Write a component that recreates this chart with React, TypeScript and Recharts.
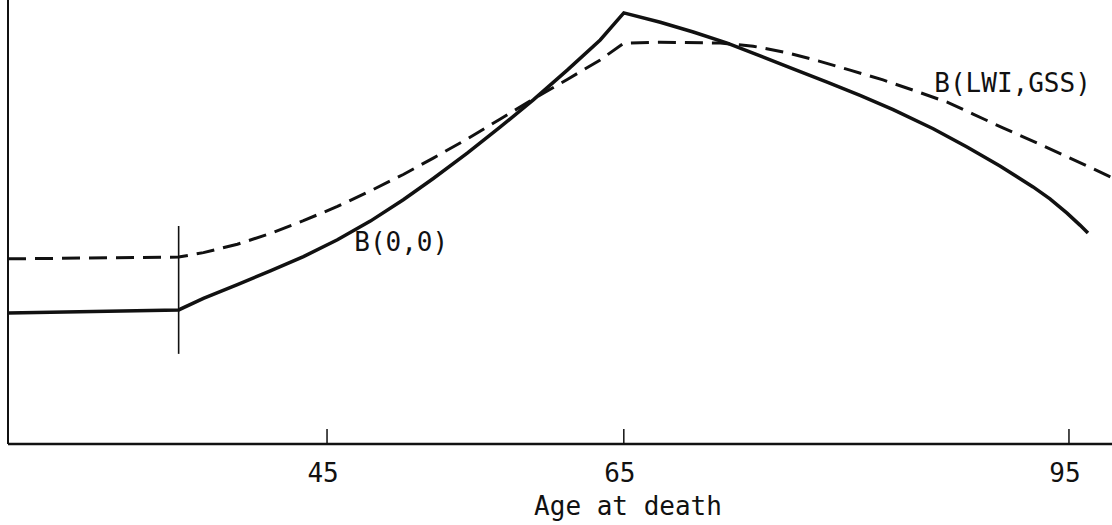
import React from 'react';
import { LineChart, Line, XAxis, YAxis, ReferenceLine, ReferenceDot, Label } from 'recharts';

const FONT = '"DejaVu Sans Mono", "Liberation Mono", monospace';
const INK = '#111';

// B(0,0): solid curve (age at death, benefit index)
const solidAges = [23.5, 35, 36.67, 38.96, 41.18, 43.41, 45.7, 47.92, 50.14, 52.16, 54.45, 56.68, 58.9, 61.19, 63.41, 65, 67.46, 69.68, 71.97, 74.19, 76.41, 78.7, 80.92, 83.15, 85.85, 88.13, 90.35, 92.58, 93.72, 94.87, 95.74, 96.28];
const solidValues = [29.5, 30.2, 32.8, 35.9, 39.0, 42.2, 46.0, 50.2, 55.0, 59.8, 65.5, 71.4, 77.5, 84.2, 91.0, 97.1, 95.0, 92.8, 90.3, 87.4, 84.5, 81.5, 78.5, 75.3, 71.0, 66.9, 62.6, 57.9, 55.2, 52.0, 49.3, 47.5];

// B(LWI,GSS): dashed curve
const dashedAges = [23.5, 35, 36.67, 38.96, 41.18, 43.41, 45.7, 47.92, 50.14, 52.16, 54.45, 56.68, 58.9, 61.19, 63.41, 65, 67.46, 71.5, 73.72, 76.01, 78.1, 80.25, 82.47, 84.49, 86.79, 88.54, 90.55, 92.85, 94.6, 96.42, 97.9];
const dashedValues = [41.7, 42.1, 43.1, 45.0, 47.4, 50.3, 53.5, 57.0, 60.7, 64.4, 68.7, 73.2, 77.7, 82.1, 86.5, 90.3, 90.5, 90.3, 89.6, 88.1, 86.3, 84.2, 82.0, 79.7, 77.0, 74.3, 71.2, 67.8, 65.1, 62.3, 60.0];

const xTicks = [45, 65, 95];
const xDomain = [23.5, 97.9];
const yDomain = [0, 100];
const cutoffAge = 35;
const cutoffRange = [20.3, 49.1];

const solidData = solidAges.map((age, i) => ({ age, v: solidValues[i] }));
const dashedData = dashedAges.map((age, i) => ({ age, v: dashedValues[i] }));

const AgeTick = (props: any) => {
  const { x, y, payload } = props;
  return (
    <g>
      <line x1={x} x2={x} y1={y - 15} y2={y} stroke={INK} strokeWidth={1.5} />
      <text x={x - 4} y={y + 38} textAnchor="middle" fontFamily={FONT} fontSize={26} fill={INK}>
        {payload.value}
      </text>
    </g>
  );
};

const AxisTitle = (props: any) => {
  const vb = props.viewBox;
  return (
    <text
      x={vb.x + vb.width / 2 + 68}
      y={vb.y + vb.height - 10}
      textAnchor="middle"
      fontFamily={FONT}
      fontSize={26}
      fill={INK}
    >
      Age at death
    </text>
  );
};

export default function App() {
  return (
    <div style={{ position: 'absolute', left: 0, top: 0, background: '#fff' }}>
      <LineChart width={1112} height={525} margin={{ top: 0, right: 0, left: 0, bottom: 0 }}>
        <XAxis
          type="number"
          dataKey="age"
          domain={xDomain}
          ticks={xTicks}
          allowDataOverflow
          height={81}
          axisLine={{ stroke: INK, strokeWidth: 2.5 }}
          tickLine={false}
          tickSize={0}
          tickMargin={0}
          tick={<AgeTick />}
          interval={0}
        >
          <Label content={<AxisTitle />} />
        </XAxis>
        <YAxis
          type="number"
          domain={yDomain}
          width={8}
          tick={false}
          tickLine={false}
          axisLine={{ stroke: INK, strokeWidth: 2 }}
          allowDataOverflow
        />
        <ReferenceLine
          segment={[
            { x: cutoffAge, y: cutoffRange[0] },
            { x: cutoffAge, y: cutoffRange[1] },
          ]}
          stroke={INK}
          strokeWidth={1.6}
        />
        <Line
          data={dashedData}
          dataKey="v"
          type="linear"
          stroke={INK}
          strokeWidth={3}
          strokeDasharray="18 9"
          dot={false}
          activeDot={false}
          isAnimationActive={false}
        />
        <Line
          data={solidData}
          dataKey="v"
          type="linear"
          stroke={INK}
          strokeWidth={3.5}
          dot={false}
          activeDot={false}
          isAnimationActive={false}
        />
        <ReferenceDot
          x={50}
          y={45.5}
          r={0}
          fill="none"
          stroke="none"
          label={{ value: 'B(0,0)', position: 'center', fontFamily: FONT, fontSize: 26, fill: INK }}
        />
        <ReferenceDot
          x={91.2}
          y={81.3}
          r={0}
          fill="none"
          stroke="none"
          label={{ value: 'B(LWI,GSS)', position: 'center', fontFamily: FONT, fontSize: 26, fill: INK }}
        />
      </LineChart>
    </div>
  );
}
